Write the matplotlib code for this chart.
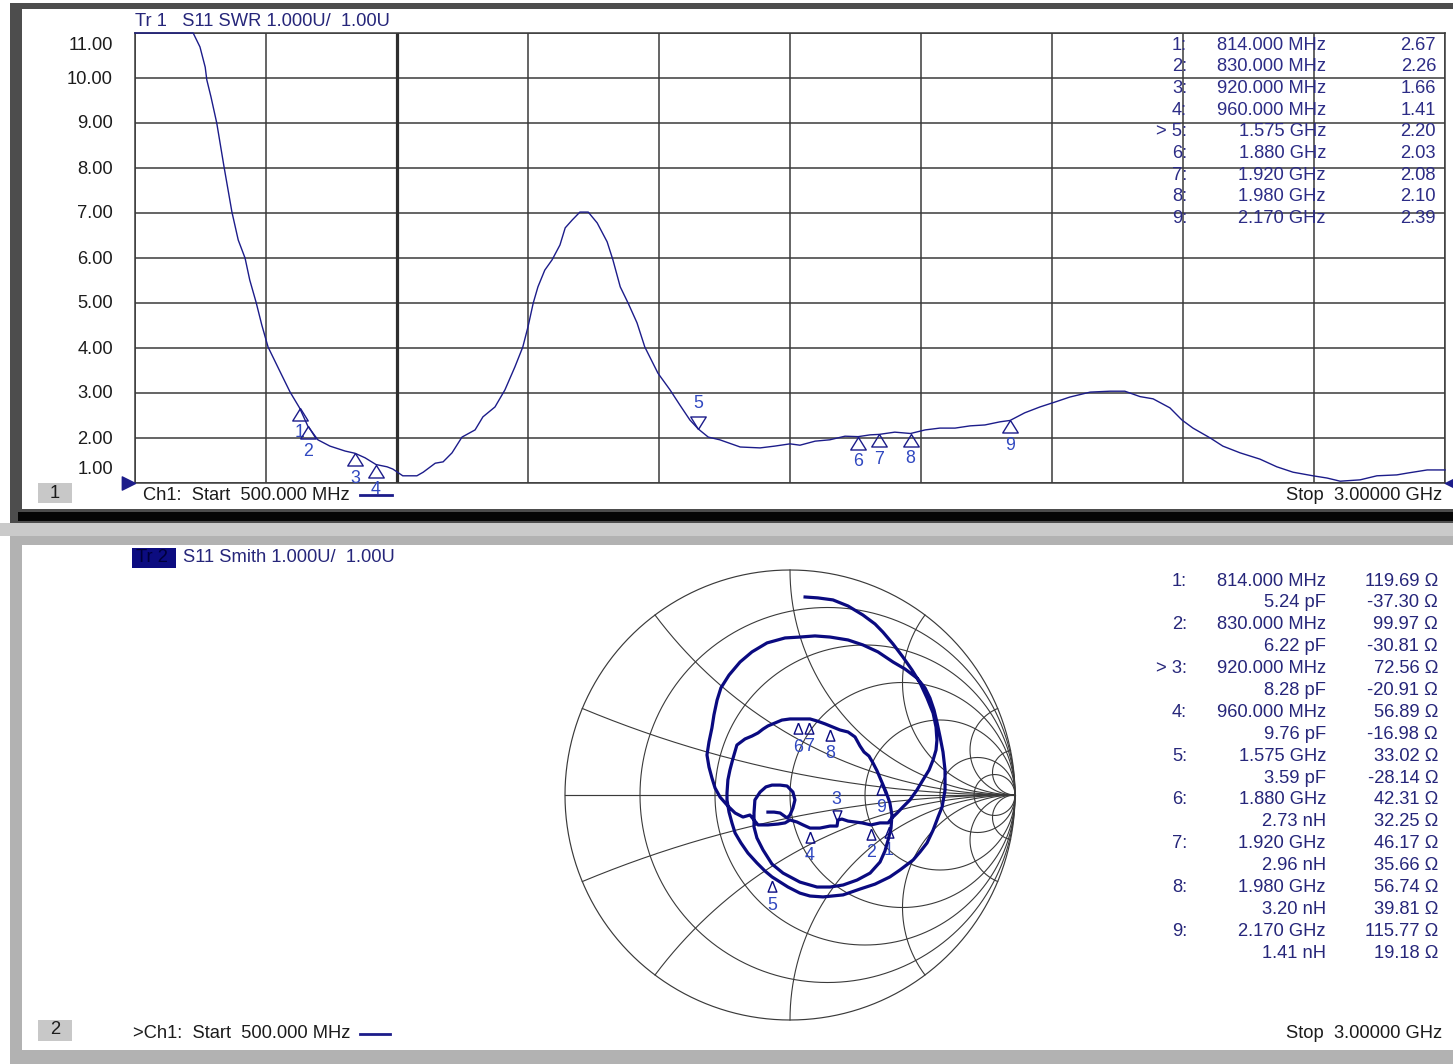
import numpy as np
import matplotlib
matplotlib.use('Agg')
import matplotlib.pyplot as plt
from matplotlib.patches import Rectangle

plt.rcParams['font.family'] = ['Liberation Sans', 'DejaVu Sans']

W, H = 1453, 1064

# channel 1: SWR trace, frequency in MHz
freq = [500, 611, 624, 634, 637, 645, 656, 670, 685, 697,
        710, 719, 731, 742, 754, 777, 796, 814, 830, 849,
        872, 901, 920, 939, 960, 981, 992, 1011, 1038, 1050,
        1073, 1088, 1105, 1124, 1149, 1164, 1187, 1206, 1225, 1240,
        1250, 1260, 1269, 1282, 1296, 1311, 1321, 1334, 1349, 1365,
        1382, 1401, 1412, 1426, 1441, 1458, 1473, 1498, 1521, 1540,
        1559, 1575, 1594, 1616, 1655, 1693, 1721, 1750, 1769, 1798,
        1826, 1855, 1880, 1903, 1920, 1950, 1980, 2008, 2036, 2065,
        2094, 2122, 2151, 2170, 2198, 2227, 2256, 2284, 2323, 2361,
        2389, 2418, 2443, 2475, 2498, 2519, 2552, 2576, 2609, 2647,
        2679, 2710, 2748, 2775, 2800, 2838, 2870, 2908, 2928, 2966, 3000]
swr = [11.0, 11.0, 10.69, 10.24, 9.96, 9.58, 9.0, 8.02, 7.02, 6.40,
       6.0, 5.51, 5.02, 4.51, 4.02, 3.47, 3.02, 2.67, 2.26, 1.96,
       1.82, 1.71, 1.66, 1.56, 1.41, 1.36, 1.31, 1.16, 1.16, 1.24,
       1.44, 1.47, 1.67, 2.02, 2.18, 2.47, 2.69, 3.07, 3.58, 4.02,
       4.47, 5.0, 5.36, 5.73, 5.96, 6.29, 6.67, 6.84, 7.02, 7.02,
       6.78, 6.36, 5.96, 5.36, 5.0, 4.56, 4.02, 3.44, 3.07, 2.73,
       2.40, 2.20, 2.02, 1.96, 1.80, 1.78, 1.82, 1.87, 1.84, 1.93,
       1.96, 2.04, 2.03, 2.07, 2.08, 2.13, 2.10, 2.18, 2.22, 2.22,
       2.27, 2.29, 2.36, 2.39, 2.56, 2.69, 2.80, 2.91, 3.02, 3.04,
       3.04, 2.92, 2.87, 2.67, 2.40, 2.22, 2.0, 1.82, 1.67, 1.53,
       1.36, 1.24, 1.16, 1.11, 1.04, 1.07, 1.16, 1.18, 1.22, 1.29, 1.29]

# markers (same 9 markers on both traces)
mk_freq = [814, 830, 920, 960, 1575, 1880, 1920, 1980, 2170]
mk_swr = [2.67, 2.26, 1.66, 1.41, 2.20, 2.03, 2.08, 2.10, 2.39]
mk_R = [119.69, 99.97, 72.56, 56.89, 33.02, 42.31, 46.17, 56.74, 115.77]
mk_X = [-37.30, -30.81, -20.91, -16.98, -28.14, 32.25, 35.66, 39.81, 19.18]
mk_eq = [5.24, 6.22, 8.28, 9.76, 3.59, 2.73, 2.96, 3.20, 1.41]
mk_eq_unit = ['pF', 'pF', 'pF', 'pF', 'pF', 'nH', 'nH', 'nH', 'nH']
active_1 = 5
active_2 = 3

# channel 2: S11 reflection coefficient
gam_re = [0.067, 0.124, 0.191, 0.258, 0.324, 0.378, 0.413, 0.458, 0.502, 0.542,
          0.578, 0.609, 0.636, 0.649, 0.653, 0.649, 0.636, 0.618, 0.591, 0.564,
          0.533, 0.502, 0.476, 0.453, 0.436,
          0.400, 0.360, 0.320, 0.289, 0.258, 0.231, 0.213, 0.209, 0.178, 0.133, 0.089,
          0.058, 0.031, 0.000, -0.022, -0.053, -0.098, -0.142, -0.160, -0.178, -0.209,
          -0.244, -0.276, -0.311, -0.333, -0.347, -0.360, -0.369, -0.360, -0.347, -0.338,
          -0.324, -0.307, -0.271, -0.222, -0.169, -0.102, -0.022, 0.044, 0.111, 0.178,
          0.258, 0.324, 0.391, 0.458, 0.511, 0.564, 0.600, 0.622, 0.640, 0.653,
          0.667, 0.680, 0.689, 0.689, 0.676, 0.658, 0.636, 0.609, 0.578, 0.547,
          0.489, 0.444, 0.378, 0.311, 0.236, 0.147, 0.089, 0.044, -0.009, -0.058,
          -0.080, -0.111, -0.147, -0.187, -0.218, -0.244, -0.258, -0.271, -0.280, -0.280,
          -0.276, -0.267, -0.253, -0.236, -0.200, -0.169, -0.142, -0.120, -0.098, -0.067,
          -0.036, 0.000, 0.036, 0.067, 0.089, 0.120, 0.156, 0.178, 0.222, 0.258,
          0.289, 0.311, 0.329, 0.351, 0.369, 0.387, 0.404, 0.427, 0.444, 0.453,
          0.449, 0.436, 0.422, 0.400, 0.356, 0.298, 0.236, 0.178, 0.120, 0.044,
          -0.031, -0.080, -0.120, -0.147, -0.160, -0.160, -0.156, -0.133, -0.107, -0.080,
          -0.044, -0.013, 0.013, 0.022, 0.013, 0.000, -0.013, -0.044, -0.071, -0.098]
gam_im = [0.880, 0.876, 0.867, 0.840, 0.800, 0.760, 0.724, 0.671, 0.613, 0.556,
          0.498, 0.431, 0.364, 0.302, 0.244, 0.200, 0.156, 0.111, 0.067, 0.022,
          -0.022, -0.053, -0.080, -0.102, -0.124,
          -0.124, -0.133, -0.124, -0.120, -0.116, -0.107, -0.111, -0.138, -0.138, -0.147, -0.147,
          -0.133, -0.120, -0.111, -0.124, -0.129, -0.133, -0.133, -0.111, -0.089, -0.098,
          -0.080, -0.049, -0.009, 0.031, 0.076, 0.124, 0.178, 0.236, 0.298, 0.356,
          0.422, 0.476, 0.533, 0.591, 0.636, 0.676, 0.698, 0.702, 0.707, 0.702,
          0.689, 0.667, 0.636, 0.591, 0.560, 0.520, 0.476, 0.431, 0.378, 0.324,
          0.258, 0.191, 0.111, 0.022, -0.053, -0.098, -0.156, -0.213, -0.253, -0.289,
          -0.333, -0.364, -0.396, -0.418, -0.444, -0.453, -0.449, -0.436, -0.409, -0.378,
          -0.364, -0.338, -0.302, -0.258, -0.213, -0.169, -0.124, -0.076, -0.022, 0.009,
          0.067, 0.111, 0.164, 0.222, 0.249, 0.262, 0.276, 0.293, 0.307, 0.320,
          0.333, 0.338, 0.338, 0.338, 0.338, 0.329, 0.316, 0.307, 0.289, 0.280,
          0.258, 0.218, 0.191, 0.173, 0.142, 0.107, 0.067, 0.013, -0.036, -0.089,
          -0.147, -0.200, -0.249, -0.298, -0.347, -0.378, -0.400, -0.409, -0.409, -0.387,
          -0.347, -0.307, -0.244, -0.191, -0.142, -0.080, -0.022, 0.013, 0.036, 0.044,
          0.044, 0.040, 0.013, -0.022, -0.058, -0.089, -0.102, -0.080, -0.076, -0.076]

r_circles = [0.2, 0.5, 1, 2, 5, 10]
x_arcs = [0.2, 0.5, 1, 2, 5, 10]

TRACE = '#1c1c8a'
TXT = '#26267a'
LBL = '#3048c0'
GRID = '#3a3a3a'
FS = 13.2


def flabel(f):
    return f"{f:.3f} MHz" if f < 1000 else f"{f / 1000:.3f} GHz"


def px_axes(x0, y0, x1, y1, z):
    return fig.add_axes([x0 / W, 1 - y1 / H, (x1 - x0) / W, (y1 - y0) / H], zorder=z)


fig = plt.figure(figsize=(W / 100, H / 100), dpi=100)
fig.patch.set_facecolor('white')

# window frames
bg = fig.add_axes([0, 0, 1, 1], zorder=0)
bg.set_xlim(0, W)
bg.set_ylim(H, 0)
bg.axis('off')


def box(x0, y0, x1, y1, fc):
    bg.add_patch(Rectangle((x0, y0), x1 - x0, y1 - y0, facecolor=fc, edgecolor='none'))


box(10, 3, W, 523, '#4d4d4d')
box(22, 9, W, 509, 'white')
box(18, 512, W, 521, '#060606')
box(0, 523, W, 536, '#cacaca')
box(10, 536, W, H, '#b2b2b2')
box(22, 545, W, 1050, 'white')
box(38, 483, 72, 503, '#c8c8c8')
box(38, 1020, 72, 1041, '#c8c8c8')
box(132, 548, 176, 568, '#0c0c80')

# ---- top: SWR
ax1 = px_axes(135, 33, 1445, 483, 2)
ax1.set_facecolor('none')
ax1.set_xlim(500, 3000)
ax1.set_ylim(1, 11)
ax1.set_xticks(np.arange(500, 3001, 250))
ax1.set_yticks(np.arange(1, 12, 1))
ax1.tick_params(length=0, labelbottom=False, labelleft=False)
ax1.grid(True, color=GRID, lw=1.1)
for s in ax1.spines.values():
    s.set_color(GRID)
    s.set_linewidth(1.1)
ax1.axvline(1000, color='#2e2e2e', lw=2.3)
ax1.plot(freq, swr, color=TRACE, lw=1.0, clip_on=False, zorder=4)

for v in range(1, 12):
    dy = -12 if v == 11 else (13 if v == 1 else -1)
    ax1.annotate(f"{v:.2f}", (0, v), xycoords=('axes fraction', 'data'),
                 xytext=(-22, dy), textcoords='offset pixels',
                 ha='right', va='center', fontsize=FS, color='#1c1c1c')

# reference level arrows
ax1.plot(500, 1, marker=[(0, 0), (-1, 0.5), (-1, -0.5), (0, 0)], ms=19,
         color=TRACE, clip_on=False, zorder=5)
ax1.plot(3000, 1, marker=[(0, 0), (1, 0.5), (1, -0.5), (0, 0)], ms=14,
         color=TRACE, clip_on=False, zorder=5)

tri_below = [(0, 0), (-0.62, -1), (0.62, -1), (0, 0)]
tri_above = [(0, 0), (-0.62, 1), (0.62, 1), (0, 0)]
for i, (f, v) in enumerate(zip(mk_freq, mk_swr), start=1):
    act = i == active_1
    ax1.plot(f, v, marker=tri_above if act else tri_below, ms=18, mfc='none',
             mec=TRACE, mew=1.0, clip_on=False, zorder=5)
    ax1.annotate(str(i), (f, v), xytext=(0, 26 if act else -25),
                 textcoords='offset pixels', ha='center', va='center',
                 fontsize=12.8, color=LBL, annotation_clip=False)

# ---- bottom: Smith chart
ax2 = px_axes(560, 565, 1020, 1025, 2)
ax2.set_xlim(-1.0222, 1.0222)
ax2.set_ylim(-1.0222, 1.0222)
ax2.axis('off')

t = np.linspace(0, 2 * np.pi, 721)
ax2.plot(np.cos(t), np.sin(t), color=GRID, lw=0.85)
ax2.plot([-1, 1], [0, 0], color=GRID, lw=0.85)
for r in r_circles:
    c, rad = r / (1 + r), 1 / (1 + r)
    ax2.plot(c + rad * np.cos(t), rad * np.sin(t), color=GRID, lw=0.8)
for x in x_arcs:
    end = (x * x - 1 + 2j * x) / (1 + x * x)
    th0 = np.arctan2(end.imag - 1 / x, end.real - 1) % (2 * np.pi)
    th = np.linspace(th0, 1.5 * np.pi, 300)
    xs = 1 + np.cos(th) / x
    ys = 1 / x + np.sin(th) / x
    ax2.plot(xs, ys, color=GRID, lw=0.8)
    ax2.plot(xs, -ys, color=GRID, lw=0.8)

ax2.plot(gam_re, gam_im, color='#0a0a80', lw=2.3, solid_joinstyle='round', zorder=4)

z_mk = (np.array(mk_R) + 1j * np.array(mk_X)) / 50.0
g_mk = (z_mk - 1) / (z_mk + 1)
s_below = [(0, -0.25), (-0.3, -1), (0.3, -1), (0, -0.25)]
s_above = [(0, 0.25), (-0.3, 1), (0.3, 1), (0, 0.25)]
for i, g in enumerate(g_mk, start=1):
    act = i == active_2
    ax2.plot(g.real, g.imag, marker=s_above if act else s_below, ms=21, mfc='none',
             mec='#0a0a80', mew=1.0, zorder=5)
    ax2.annotate(str(i), (g.real, g.imag), xytext=(0, 26 if act else -28),
                 textcoords='offset pixels', ha='center', va='center',
                 fontsize=12.8, color=LBL)

# ---- text overlay
ov = fig.add_axes([0, 0, 1, 1], zorder=3)
ov.set_xlim(0, W)
ov.set_ylim(H, 0)
ov.axis('off')


def txt(x, y, s, ha='left', color=TXT, **kw):
    ov.text(x, y, s, ha=ha, va='center', fontsize=FS, color=color, **kw)


txt(135, 21, "Tr 1   S11 SWR 1.000U/  1.00U")
txt(136, 558, "Tr 2", color='#00003a')
txt(183, 558, "S11 Smith 1.000U/  1.00U")
txt(55, 493, "1", ha='center', color='#1c1c1c')
txt(55, 1030, "2", ha='center', color='#1c1c1c')
txt(143, 496, "Ch1:  Start  500.000 MHz", color='#1c1c1c')
txt(133, 1034, ">Ch1:  Start  500.000 MHz", color='#1c1c1c')
txt(1442, 496, "Stop  3.00000 GHz", ha='right', color='#1c1c1c')
txt(1442, 1034, "Stop  3.00000 GHz", ha='right', color='#1c1c1c')
ov.plot([360, 392], [495, 495], color=TRACE, lw=2)
ov.plot([360, 390], [1034, 1034], color=TRACE, lw=2)

for i in range(len(mk_freq)):
    y = 45 + i * 21.7
    idx = f"> {i + 1}:" if i + 1 == active_1 else f"{i + 1}:"
    txt(1187, y, idx, ha='right', color='#2c2c86')
    txt(1326, y, flabel(mk_freq[i]), ha='right', color='#2c2c86')
    txt(1436, y, f"{mk_swr[i]:.2f}", ha='right', color='#2c2c86')

for i in range(len(mk_freq)):
    y = 581 + i * 2 * 21.9
    idx = f"> {i + 1}:" if i + 1 == active_2 else f"{i + 1}:"
    txt(1187, y, idx, ha='right')
    txt(1326, y, flabel(mk_freq[i]), ha='right')
    txt(1438, y, f"{mk_R[i]:.2f} Ω", ha='right')
    txt(1326, y + 21.9, f"{mk_eq[i]:.2f} {mk_eq_unit[i]}", ha='right')
    txt(1438, y + 21.9, f"{mk_X[i]:.2f} Ω", ha='right')

fig.savefig('out.png', dpi=100, facecolor=fig.get_facecolor())
